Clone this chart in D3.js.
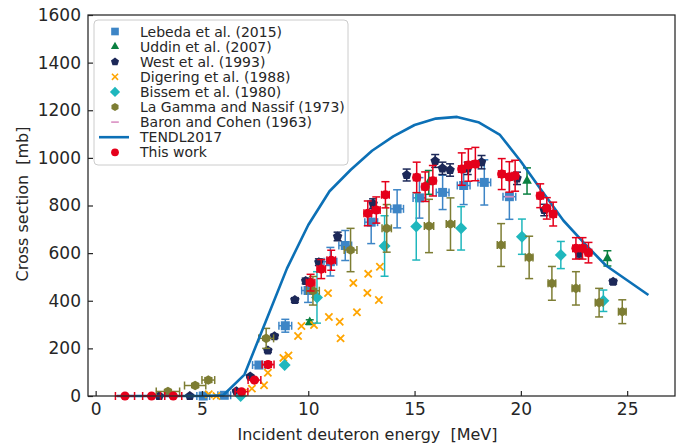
<!DOCTYPE html>
<html><head><meta charset="utf-8">
<script src="https://cdn.jsdelivr.net/npm/d3@7/dist/d3.min.js"></script>
<style>body{margin:0;background:#fff}svg{display:block;font-family:"DejaVu Sans",sans-serif}</style>
</head><body><svg id="c" width="678" height="446"></svg>
<script>
// ---- data ----
const xTicks = [0, 5, 10, 15, 20, 25];
const yTicks = [0, 200, 400, 600, 800, 1000, 1200, 1400, 1600];

const tendlE = [1,2,3,4,5,6,7,8,9,10,11,12,13,14,15,16,17,18,19,20,21,22,23,24,25,26];
const tendlS = [0,0,0,0,0,3,90,313,536,718,860,950,1030,1090,1138,1165,1172,1150,1098,985,860,737,640,548,486,424];

const lebedaE  = [5.06, 6.05, 7.68, 8.92, 9.99, 11.04, 11.74, 12.96, 14.18, 15.23, 16.32, 17.31, 18.28, 19.46];
const lebedaS  = [0, 3, 130, 295, 443, 564, 632, 730, 786, 832, 855, 884, 897, 837];
const lebedaDS = [0, 2, 10, 27, 50, 60, 63, 90, 80, 85, 72, 80, 95, 95];
const lebedaDE = [0.3, 0.3, 0.3, 0.3, 0.3, 0.3, 0.3, 0.3, 0.3, 0.3, 0.3, 0.3, 0.3, 0.3];

const uddinE  = [10.07, 15.67, 20.29, 24.07];
const uddinS  = [310, 897, 903, 578];
const uddinDS = [10, 50, 55, 32];

const westE  = [2.99, 4.43, 6.62, 7.27, 8.1, 8.41, 9.37, 9.88, 10.5, 11.38, 13.05, 14.63, 15.97, 16.31, 16.67, 17.5, 18.15, 19.82, 21.1, 22.74, 24.34];
const westS  = [0, 0, 20, 82, 191, 251, 403, 483, 562, 670, 808, 928, 987, 956, 949, 956, 982, 914, 781, 599, 480];
const westDS = [0, 0, 3, 5, 8, 9, 10, 12, 14, 18, 20, 25, 27, 26, 26, 26, 28, 26, 24, 20, 10];

const digeringE = [5.32, 5.68, 6.93, 7.35, 7.92, 8.1, 8.83, 9.07, 9.52, 9.68, 10.27, 10.93, 10.97, 11.48, 11.52, 12.12, 12.29, 12.78, 12.82, 13.32, 13.37];
const digeringS = [7, 0, 14, 31, 45, 98, 160, 170, 252, 294, 298, 432, 332, 312, 242, 475, 352, 433, 513, 403, 543];

const bissemE  = [6.82, 8.89, 10.41, 13.59, 15.08, 17.19, 20.05, 21.88, 23.88];
const bissemS  = [0, 130, 414, 630, 712, 704, 669, 592, 400];
const bissemDS = [0, 0, 108, 127, 141, 91, 74, 57, 45];

const lagammaE  = [3.4, 4.68, 5.3, 8.02, 10.22, 11.99, 13.69, 15.68, 16.69, 19.07, 20.39, 21.46, 22.59, 23.68, 24.77];
const lagammaS  = [19, 44, 67, 242, 442, 613, 704, 714, 722, 634, 582, 473, 452, 392, 354];
const lagammaDS = [5, 8, 10, 42, 60, 91, 100, 112, 110, 90, 89, 71, 70, 60, 50];
const lagammaDE = [0.55, 0.5, 0.3, 0.35, 0.3, 0.3, 0.22, 0.22, 0.2, 0.18, 0.18, 0.18, 0.18, 0.18, 0.18];

const baronE = [19.46];
const baronS = [837];

const thisE  = [1.38, 2.63, 3.65, 6.86, 7.47, 8.11, 10.11, 10.61, 11.08, 12.8, 13.2, 13.63, 15.1, 15.5, 15.86, 17.22, 17.53, 17.86, 19.1, 19.46, 19.73, 20.91, 21.22, 21.52, 22.59, 22.9, 23.18];
const thisS  = [0, 0, 0, 18, 67, 132, 476, 533, 570, 767, 781, 845, 918, 879, 904, 953, 970, 974, 932, 920, 925, 841, 788, 764, 620, 620, 602];
const thisDS = [0, 0, 0, 3, 6, 12, 35, 40, 42, 52, 55, 55, 64, 62, 64, 68, 68, 70, 65, 64, 65, 50, 45, 50, 45, 45, 43];
const thisDE = [0.45, 0.42, 0.4, 0.3, 0.3, 0.28, 0.2, 0.2, 0.2, 0.18, 0.18, 0.18, 0.15, 0.15, 0.15, 0.15, 0.15, 0.15, 0.15, 0.15, 0.15, 0.15, 0.15, 0.15, 0.15, 0.15, 0.15];

const legendLabels = ["Lebeda et al. (2015)", "Uddin et al. (2007)", "West et al. (1993)", "Digering et al. (1988)",
  "Bissem et al. (1980)", "La Gamma and Nassif (1973)", "Baron and Cohen (1963)", "TENDL2017", "This work"];
const xLabel = "Incident deuteron energy\u00a0\u00a0[MeV]";
const yLabel = "Cross section\u00a0\u00a0[mb]";

// ---- drawing ----
const svg = d3.select("#c");
const L = 88, R = 675, T = 15, B = 396;
const x = d3.scaleLinear().domain([-0.36, 27.25]).range([L, R]);
const y = d3.scaleLinear().domain([0, 1600]).range([B, T]);
const ink = "#262626";

const C = {leb:"#3d85c6", udd:"#0a8041", west:"#1c2858", dig:"#ffa500", bis:"#1fb7bd", lag:"#7d7d33", bar:"#d88ac0", tendl:"#0c70b6", red:"#e5001b"};

function poly(n, r, rot) {
  const p = [];
  for (let i = 0; i < n; i++) { const a = rot + i * 2 * Math.PI / n; p.push([r * Math.cos(a), r * Math.sin(a)]); }
  return "M" + p.map(d => d.join(",")).join("L") + "Z";
}
const shapes = {
  square: "M-4.5,-4.5H4.5V4.5H-4.5Z",
  triangle: poly(3, 5.6, -Math.PI / 2),
  pentagon: poly(5, 5, -Math.PI / 2),
  diamond: "M0,-6L6,0L0,6L-6,0Z",
  hexagon: poly(6, 4.8, -Math.PI / 2),
  circle: d3.symbol(d3.symbolCircle, 66)(),
  xmark: "M-3.6,-3.6L3.6,3.6M-3.6,3.6L3.6,-3.6",
  hline: "M-4.5,0H4.5"
};

const gData = svg.append("g");

function errSeries(E, S, dS, dE, color, shape, strokeShape) {
  const g = gData.append("g");
  const pts = E.map((e, i) => ({e, s: S[i], ds: dS ? dS[i] : 0, de: dE ? dE[i] : 0}));
  const cap = 4;
  pts.forEach(p => {
    if (p.ds > 0) {
      const y1 = y(p.s + p.ds), y2 = y(p.s - p.ds), cx = x(p.e);
      g.append("line").attr("x1", cx).attr("x2", cx).attr("y1", y1).attr("y2", y2).attr("stroke", color).attr("stroke-width", 1.5);
      [y1, y2].forEach(yy => g.append("line").attr("x1", cx - cap).attr("x2", cx + cap).attr("y1", yy).attr("y2", yy).attr("stroke", color).attr("stroke-width", 1.5));
    }
    if (p.de > 0) {
      const x1 = x(p.e - p.de), x2 = x(p.e + p.de), cy = y(p.s);
      g.append("line").attr("x1", x1).attr("x2", x2).attr("y1", cy).attr("y2", cy).attr("stroke", color).attr("stroke-width", 1.5);
      [x1, x2].forEach(xx => g.append("line").attr("x1", xx).attr("x2", xx).attr("y1", cy - cap).attr("y2", cy + cap).attr("stroke", color).attr("stroke-width", 1.5));
    }
  });
  g.selectAll("path.m").data(pts).join("path").attr("class", "m")
    .attr("d", shapes[shape])
    .attr("transform", p => `translate(${x(p.e)},${y(p.s)})`)
    .attr("fill", strokeShape ? "none" : color)
    .attr("stroke", strokeShape ? color : "none")
    .attr("stroke-width", strokeShape ? 1.8 : 0);
}

errSeries(lebedaE, lebedaS, lebedaDS, lebedaDE, C.leb, "square");
errSeries(uddinE, uddinS, uddinDS, null, C.udd, "triangle");
errSeries(westE, westS, westDS, null, C.west, "pentagon");
errSeries(digeringE, digeringS, null, null, C.dig, "xmark", true);
errSeries(bissemE, bissemS, bissemDS, null, C.bis, "diamond");
errSeries(lagammaE, lagammaS, lagammaDS, lagammaDE, C.lag, "hexagon");
errSeries(baronE, baronS, null, null, C.bar, "hline", true);

gData.append("path").datum(tendlE.map((e, i) => [e, tendlS[i]]))
  .attr("d", d3.line().x(d => x(d[0])).y(d => y(d[1])))
  .attr("fill", "none").attr("stroke", C.tendl).attr("stroke-width", 2.6).attr("stroke-linejoin", "round");

errSeries(thisE, thisS, thisDS, thisDE, C.red, "circle");

// axes
const xa = svg.append("g").attr("transform", `translate(0,${B})`)
  .call(d3.axisBottom(x).tickValues(xTicks).tickFormat(d3.format("d")).tickSizeInner(-5).tickSizeOuter(0).tickPadding(7));
const ya = svg.append("g").attr("transform", `translate(${L},0)`)
  .call(d3.axisLeft(y).tickValues(yTicks).tickFormat(d3.format("d")).tickSizeInner(-5).tickSizeOuter(0).tickPadding(7));
[xa, ya].forEach(a => {
  a.select(".domain").remove();
  a.selectAll("line").attr("stroke", ink).attr("stroke-width", 1.2);
  a.selectAll("text").attr("fill", ink).style("font-size", "17px").style("font-family", "DejaVu Sans");
});
svg.append("rect").attr("x", L).attr("y", T).attr("width", R - L).attr("height", B - T)
  .attr("fill", "none").attr("stroke", ink).attr("stroke-width", 1.25);

svg.append("text").attr("x", 367.5).attr("y", 440).attr("text-anchor", "middle")
  .attr("fill", ink).style("font-size", "16px").text(xLabel);
svg.append("text").attr("transform", `translate(28,204) rotate(-90)`).attr("text-anchor", "middle")
  .attr("fill", ink).style("font-size", "16px").text(yLabel);

// legend
const lg = svg.append("g");
lg.append("rect").attr("x", 94).attr("y", 20).attr("width", 254).attr("height", 145).attr("rx", 4)
  .attr("fill", "#fff").attr("fill-opacity", 0.85).attr("stroke", "#cccccc").attr("stroke-width", 1);
const legendShapes = [["square", C.leb], ["triangle", C.udd], ["pentagon", C.west], ["xmark", C.dig, true],
  ["diamond", C.bis], ["hexagon", C.lag], ["hline", C.bar, true], ["line", C.tendl], ["circle", C.red]];
legendLabels.forEach((lab, i) => {
  const yy = 31.5 + i * 15.1;
  const [sh, col, st] = legendShapes[i];
  if (sh === "line") {
    lg.append("line").attr("x1", 99).attr("x2", 129).attr("y1", yy).attr("y2", yy).attr("stroke", col).attr("stroke-width", 2.6);
  } else {
    lg.append("path").attr("d", shapes[sh]).attr("transform", `translate(115,${yy}) scale(0.85)`)
      .attr("fill", st ? "none" : col).attr("stroke", st ? col : "none").attr("stroke-width", st ? 1.8 : 0);
  }
  lg.append("text").attr("x", 140).attr("y", yy + 5).attr("fill", ink).style("font-size", "14px").text(lab);
});
</script></body></html>
